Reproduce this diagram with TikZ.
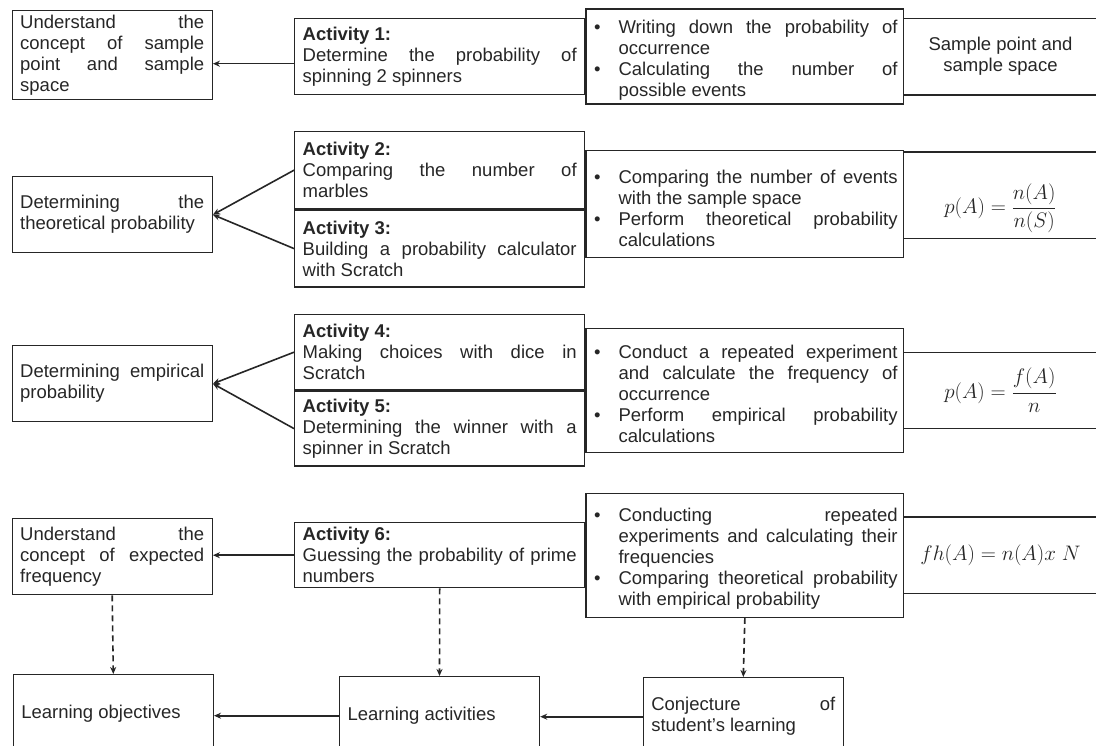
\RequirePackage{fix-cm}
\documentclass[tikz,border=0pt]{standalone}
\usepackage{amsmath}
\usepackage[no-math]{fontspec}
\setmainfont{Liberation Sans}
\usetikzlibrary{arrows.meta, positioning}

\newcommand{\diagfont}{\fontsize{18.5}{21}\selectfont}
\newcommand{\mathsize}{\fontsize{21}{25}\selectfont}
% bullet point with hanging indent
\newcommand{\pitem}[1]{\par\noindent\hangindent=26.5pt\hangafter=1\makebox[26.5pt][l]{\hspace{2pt}\textbullet}#1\par}
\hbadness=10000 \tolerance=9999 \hyphenpenalty=10000

\begin{document}
\begin{tikzpicture}[x=1pt, y=-1pt, color=black!85,
  box/.style={draw, line width=1.4pt, inner xsep=8pt, inner ysep=2pt, align=justify, font=\diagfont},
  lobox/.style={box, text width=184pt, minimum width=200pt, anchor=north west},
  actbox/.style={box, text width=274pt, minimum width=290pt},
  ptsbox/.style={box, inner xsep=6pt, text width=305.5pt, minimum width=317.5pt},
  formula/.style={font=\mathsize, align=center, minimum width=192pt, minimum height=76pt},
  band/.style={line width=1.4pt},
  arr/.style={-{Stealth[length=7pt, width=6pt]}, line width=1.6pt},
  guess/.style={arr, dash pattern=on 6pt off 4pt}]
  \useasboundingbox (0,0) rectangle (1096,746);
  \clip (0,0) rectangle (1096,746);

  % sample point and sample space
  \node[lobox, minimum height=89pt] (lo1) at (11.5,10)
    {Understand the\linebreak concept of sample\linebreak point and sample\linebreak space};
  \node[actbox, minimum height=76pt, anchor=north west] (act1) at (294,18)
    {\textbf{Activity 1:}\\ Determine the probability of\linebreak spinning 2 spinners};
  \node[ptsbox, minimum height=95pt, right=0pt of act1] (pts1)
    {\pitem{Writing down the probability of\linebreak occurrence}
     \pitem{Calculating the number of\linebreak possible events}};
  \node[formula, font=\diagfont, right=0pt of pts1] (fm1) {Sample point and\\ sample space};

  % theoretical probability
  \node[lobox, minimum height=76pt] (lo2) at (11.5,176)
    {Determining the\linebreak theoretical probability};
  \node[actbox, minimum height=77pt, anchor=north west] (act2) at (294,131)
    {\textbf{Activity 2:}\\ Comparing the number of\linebreak marbles};
  \node[actbox, minimum height=77pt, below=0pt of act2] (act3)
    {\textbf{Activity 3:}\\ Building a probability calculator\linebreak with Scratch};
  \node[ptsbox, minimum height=107pt, anchor=north west] (pts2) at ([yshift=-19pt]act2.north east)
    {\pitem{Comparing the number of events\linebreak with the sample space}
     \pitem{Perform theoretical probability\linebreak calculations}};
  \node[formula, minimum height=86pt, anchor=north west] (fm2) at ([yshift=-2pt]pts2.north east)
    {\raisebox{-13pt}[\height][\depth]{$p(A)=\dfrac{n(A)}{n(S)}$}};

  % empirical probability
  \node[lobox, minimum height=76pt] (lo3) at (11.5,345)
    {Determining empirical\linebreak probability};
  \node[actbox, minimum height=75pt, anchor=north west] (act4) at (294,314)
    {\textbf{Activity 4:}\\ Making choices with dice in\linebreak Scratch};
  \node[actbox, minimum height=75pt, below=0pt of act4] (act5)
    {\textbf{Activity 5:}\\ Determining the winner with a\linebreak spinner in Scratch};
  \node[ptsbox, minimum height=124pt, anchor=west] (pts3) at (act4.south east)
    {\pitem{Conduct a repeated experiment\linebreak and calculate the frequency of\linebreak occurrence}
     \pitem{Perform empirical probability\linebreak calculations}};
  \node[formula, right=0pt of pts3] (fm3) {$p(A)=\dfrac{f(A)}{n}$};

  % expected frequency
  \node[lobox, minimum height=76pt] (lo4) at (11.5,518)
    {Understand the\linebreak concept of expected\linebreak frequency};
  \node[actbox, minimum height=65pt, anchor=north west] (act6) at (294,522)
    {\textbf{Activity 6:}\\ Guessing the probability of prime\linebreak numbers};
  \node[ptsbox, minimum height=124pt, right=0pt of act6] (pts4)
    {\pitem{Conducting repeated\linebreak experiments and calculating their\linebreak frequencies}
     \pitem{Comparing theoretical probability\linebreak with empirical probability}};
  \node[formula, right=0pt of pts4] (fm4) {$fh(A) = n(A)x\ N$};

  % formula bands run out to the edge
  \foreach \f in {fm1,fm2,fm3,fm4}
    \draw[band] (\f.north west) -- ++(200,0) (\f.south west) -- ++(200,0);

  % bottom row
  \node[lobox, minimum height=78pt] (obj) at (12.6,674) {Learning objectives};
  \node[lobox, minimum height=78pt] (act) at (338.8,676) {Learning activities};
  \node[lobox, minimum height=78pt] (conj) at (642.6,677) {Conjecture of\linebreak student’s learning};

  \draw[arr] ([yshift=-7pt]act1.west) -- ([yshift=-7pt]act1.west -| lo1.east);
  \draw[arr] (act2.west) -- (lo2.east);
  \draw[arr] (act3.west) -- (lo2.east);
  \draw[arr] (act4.west) -- (lo3.east);
  \draw[arr] (act5.west) -- (lo3.east);
  \draw[arr] (act6.west) -- (act6.west -| lo4.east);
  \draw[arr] (act.west) -- (act.west -| obj.east);
  \draw[arr] (conj.west) -- (conj.west -| act.east);

  \draw[guess] (lo4.south) -- (obj.north);
  \draw[guess] (act6.south) -- (act.north);
  \draw[guess] (pts4.south) -- (conj.north);
\end{tikzpicture}
\end{document}
